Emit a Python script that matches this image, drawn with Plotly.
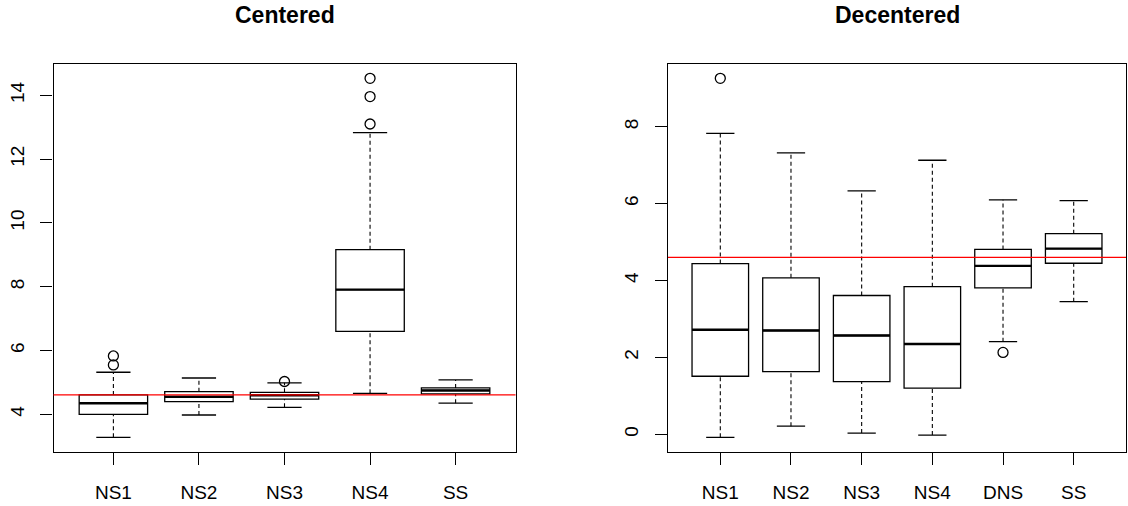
import plotly.graph_objects as go

# ---------------- data ----------------
cats_c = ["NS1", "NS2", "NS3", "NS4", "SS"]
low_c = [3.28, 3.98, 4.22, 4.66, 4.35]
q1_c = [4.00, 4.40, 4.48, 6.60, 4.64]
med_c = [4.35, 4.55, 4.60, 7.91, 4.75]
q3_c = [4.61, 4.71, 4.69, 9.16, 4.83]
up_c = [5.32, 5.14, 4.99, 12.83, 5.08]
out_c = {"NS1": [5.55, 5.83], "NS3": [5.03], "NS4": [13.10, 13.96, 14.53]}
ref_c = 4.61

cats_d = ["NS1", "NS2", "NS3", "NS4", "DNS", "SS"]
low_d = [-0.08, 0.21, 0.03, -0.02, 2.41, 3.45]
q1_d = [1.51, 1.63, 1.37, 1.20, 3.81, 4.45]
med_d = [2.72, 2.70, 2.57, 2.35, 4.38, 4.83]
q3_d = [4.44, 4.07, 3.61, 3.84, 4.81, 5.22]
up_d = [7.83, 7.32, 6.33, 7.13, 6.10, 6.08]
out_d = {"NS1": [9.26], "DNS": [2.13]}
ref_d = 4.60

titles = ["Centered", "Decentered"]

# ---------------- style ----------------
FONT = "Liberation Sans, Arial, Helvetica, sans-serif"
W, H = 1128, 506
BOXW = 0.8
CAPW = 0.4
LW = 1.3

fig = go.Figure()


def add_panel(cats, low, q1, med, q3, up, outs, ref, xa, ya):
    pos = list(range(1, len(cats) + 1))
    xref = "x" if xa == "x1" else xa
    yref = "y" if ya == "y1" else ya
    # box body (whiskers drawn separately, dashed)
    fig.add_trace(go.Box(
        x=pos, q1=q1, median=med, q3=q3, lowerfence=q1, upperfence=q3,
        width=BOXW, whiskerwidth=0, fillcolor="rgba(0,0,0,0)",
        line=dict(color="black", width=LW), xaxis=xref, yaxis=yref,
        showlegend=False, hoverinfo="skip", boxpoints=False))
    # whiskers (dashed)
    wx, wy = [], []
    for p, lo, a, b, hi in zip(pos, low, q1, q3, up):
        wx += [p, p, None, p, p, None]
        wy += [lo, a, None, b, hi, None]
    fig.add_trace(go.Scatter(x=wx, y=wy, mode="lines", xaxis=xref, yaxis=yref,
                             line=dict(color="black", width=1.1, dash="4px,3px"),
                             showlegend=False, hoverinfo="skip"))
    # staples
    sx, sy = [], []
    for p, lo, hi in zip(pos, low, up):
        sx += [p - CAPW / 2, p + CAPW / 2, None, p - CAPW / 2, p + CAPW / 2, None]
        sy += [lo, lo, None, hi, hi, None]
    fig.add_trace(go.Scatter(x=sx, y=sy, mode="lines", xaxis=xref, yaxis=yref,
                             line=dict(color="black", width=LW),
                             showlegend=False, hoverinfo="skip"))
    # medians (thicker)
    mx, my = [], []
    for p, m in zip(pos, med):
        mx += [p - BOXW / 2, p + BOXW / 2, None]
        my += [m, m, None]
    fig.add_trace(go.Scatter(x=mx, y=my, mode="lines", xaxis=xref, yaxis=yref,
                             line=dict(color="black", width=2.4),
                             showlegend=False, hoverinfo="skip"))
    # outliers
    ox, oy = [], []
    for c, vals in outs.items():
        p = pos[cats.index(c)]
        for v in vals:
            ox.append(p)
            oy.append(v)
    fig.add_trace(go.Scatter(x=ox, y=oy, mode="markers", xaxis=xref, yaxis=yref,
                             marker=dict(symbol="circle-open", size=10,
                                         color="black", line=dict(width=1.3)),
                             showlegend=False, hoverinfo="skip"))
    # reference line
    fig.add_shape(type="line", xref=f"{xref} domain", yref=yref,
                  x0=0, x1=1, y0=ref, y1=ref, layer="above",
                  line=dict(color="#ff0000", width=1.3))
    allv = low + up + [v for vals in outs.values() for v in vals]
    lo_, hi_ = min(allv), max(allv)
    pad = 0.04 * (hi_ - lo_)
    n = len(cats)
    return pos, [lo_ - pad, hi_ + pad], [0.5 - 0.04 * n, n + 0.5 + 0.04 * n]


pos_c, yr_c, xr_c = add_panel(cats_c, low_c, q1_c, med_c, q3_c, up_c, out_c, ref_c, "x1", "y1")
pos_d, yr_d, xr_d = add_panel(cats_d, low_d, q1_d, med_d, q3_d, up_d, out_d, ref_d, "x2", "y2")

ydom = [(H - 451.7) / H, (H - 64) / H]
xdom1 = [53.5 / W, 515.5 / W]
xdom2 = [668 / W, 1126 / W]

axis_common = dict(showline=True, mirror=True, linecolor="black", linewidth=LW,
                   ticks="outside", ticklen=12, tickwidth=LW, tickcolor="black",
                   showgrid=False, zeroline=False,
                   tickfont=dict(family=FONT, size=19, color="black"))

fig.update_layout(
    width=W, height=H, margin=dict(l=0, r=0, t=0, b=0),
    plot_bgcolor="white", paper_bgcolor="white", showlegend=False,
    font=dict(family=FONT, color="black"),
    xaxis=dict(domain=xdom1, range=xr_c, tickvals=pos_c, ticktext=cats_c,
               anchor="y", ticklabelstandoff=11, **axis_common),
    yaxis=dict(domain=ydom, range=yr_c, tickvals=[4, 6, 8, 10, 12, 14],
               anchor="x", tickangle=-90, ticklabelstandoff=9, **axis_common),
    xaxis2=dict(domain=xdom2, range=xr_d, tickvals=pos_d, ticktext=cats_d,
                anchor="y2", ticklabelstandoff=11, **axis_common),
    yaxis2=dict(domain=ydom, range=yr_d, tickvals=[0, 2, 4, 6, 8],
                anchor="x2", tickangle=-90, ticklabelstandoff=9, **axis_common),
)

for t, dom in zip(titles, [xdom1, xdom2]):
    fig.add_annotation(text=f"<b>{t}</b>", xref="paper", yref="paper",
                       x=(dom[0] + dom[1]) / 2, y=1 - 15 / H, xanchor="center",
                       yanchor="middle", showarrow=False,
                       font=dict(family=FONT, size=23, color="black"))

fig.write_html("out.html", config={"displayModeBar": False},
               post_script="document.body.style.margin='0';")
